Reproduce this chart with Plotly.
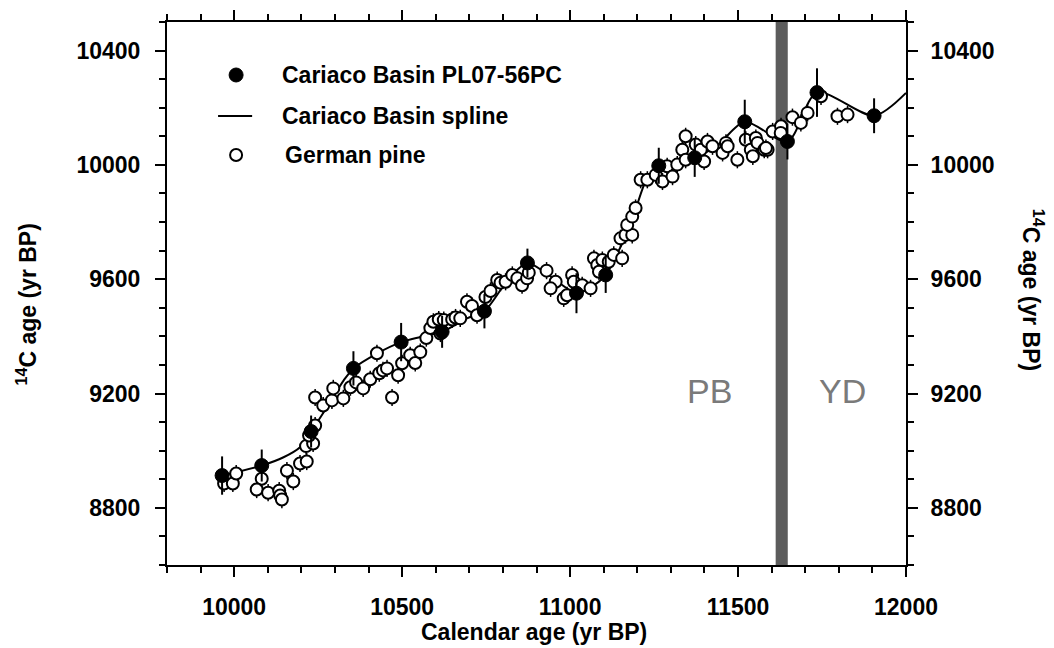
import plotly.graph_objects as go

# ---------------- data ----------------
cariaco_x = [9964, 10082, 10229, 10355, 10497, 10619, 10745, 10873, 11019, 11106,
             11264, 11371, 11520, 11647, 11735, 11905]
cariaco_y = [8913, 8948, 9067, 9288, 9380, 9416, 9488, 9657, 9551, 9615,
             9997, 10025, 10151, 10082, 10253, 10172]
cariaco_err = [67, 56, 56, 60, 67, 56, 60, 50, 70, 63, 63, 67, 77, 63, 85, 61]

spline_x = [9964, 10082, 10147, 10196, 10229, 10276, 10326, 10355, 10425, 10497,
            10554, 10619, 10693, 10745, 10822, 10873, 10930, 11019, 11066, 11106,
            11136, 11180, 11225, 11264, 11319, 11371, 11440, 11520, 11647, 11735,
            11905, 12000]
spline_y = [8913, 8948, 8977, 9012, 9067, 9152, 9246, 9288, 9340, 9380,
            9398, 9416, 9463, 9488, 9609, 9657, 9620, 9551, 9574, 9615,
            9679, 9790, 9942, 9997, 10012, 10025, 10070, 10151, 10082, 10253,
            10172, 10252]

pine_x = [9970, 9996, 10006, 10082, 10067, 10101, 10134, 10137, 10142, 10157,
          10176, 10196, 10216, 10214, 10235, 10223, 10241, 10241, 10265, 10291,
          10295, 10325, 10346, 10363, 10384, 10405, 10425, 10432, 10443, 10455,
          10470, 10488, 10500, 10524, 10539, 10554, 10572, 10584, 10593, 10609,
          10624, 10614, 10649, 10659, 10673, 10693, 10708, 10723, 10748, 10763,
          10783, 10793, 10808, 10828, 10843, 10857, 10872, 10877, 10930, 10957,
          10942, 10981, 10991, 11006, 11011, 11036, 11061, 11071, 11081, 11096,
          11115, 11130, 11155, 11150, 11165, 11185, 11086, 11170, 11185, 11195,
          11210, 11230, 11255, 11275, 11289, 11305, 11319, 11334, 11344, 11344,
          11374, 11399, 11389, 11409, 11424, 11454, 11464, 11469, 11498, 11523,
          11538, 11553, 11558, 11578, 11588, 11603, 11628, 11662, 11544, 11583,
          11627, 11687, 11707, 11747, 11796, 11826]
pine_y = [8885, 8885, 8920, 8902, 8864, 8853, 8860, 8843, 8829, 8930,
          8892, 8955, 8962, 9016, 9025, 9053, 9088, 9186, 9158, 9176,
          9218, 9183, 9222, 9239, 9218, 9250, 9341, 9271, 9281, 9288,
          9186, 9264, 9306, 9334, 9307, 9345, 9394, 9429, 9451, 9459,
          9457, 9410, 9459, 9466, 9463, 9521, 9506, 9474, 9538, 9559,
          9597, 9588, 9591, 9615, 9603, 9579, 9603, 9623, 9630, 9591,
          9568, 9533, 9544, 9615, 9591, 9579, 9568, 9673, 9650, 9667,
          9661, 9685, 9673, 9743, 9755, 9755, 9626, 9790, 9819, 9849,
          9948, 9948, 9965, 9942, 9995, 9959, 10001, 10053, 10100, 10018,
          10071, 10012, 10053, 10082, 10065, 10042, 10077, 10065, 10018, 10088,
          10053, 10094, 10077, 10053, 10053, 10117, 10135, 10167, 10030, 10059,
          10112, 10147, 10182, 10240, 10170, 10176]
pine_err = 30

band_x = [11612, 11648]
x_range = [9800, 12000]
y_range = [8600, 10500]
x_ticks_major, x_ticks_minor = 500, 100
y_ticks_major, y_ticks_minor = 400, 100
period_labels = ["PB", "YD"]
period_x = [11415, 11811]
period_y = 9210

legend_labels = ["Cariaco Basin PL07-56PC", "Cariaco Basin spline", "German pine"]

FONT = "Liberation Sans, Arial, Helvetica, sans-serif"
bold = dict(family=FONT, size=23, color="black", weight="bold")

fig = go.Figure()

fig.add_trace(go.Scatter(
    x=spline_x, y=spline_y, mode="lines",
    line=dict(color="black", width=2, shape="spline", smoothing=0.8),
    name=legend_labels[1], showlegend=False))

fig.add_trace(go.Scatter(
    x=pine_x, y=pine_y, mode="markers",
    marker=dict(symbol="circle", size=12, color="white", line=dict(color="black", width=2)),
    error_y=dict(type="constant", value=pine_err, color="black", thickness=1.5, width=0),
    name=legend_labels[2], showlegend=False))

fig.add_trace(go.Scatter(
    x=cariaco_x, y=cariaco_y, mode="markers",
    marker=dict(symbol="circle", size=14, color="black", line=dict(color="black", width=1)),
    error_y=dict(type="data", array=cariaco_err, color="black", thickness=2, width=0),
    name=legend_labels[0], showlegend=False))

# helper trace for the mirrored (top / right) axes
fig.add_trace(go.Scatter(x=[None], y=[None], xaxis="x2", yaxis="y2", showlegend=False, hoverinfo="skip"))

fig.add_shape(type="rect", xref="x", yref="paper", x0=band_x[0], x1=band_x[1], y0=0, y1=1,
              fillcolor="#5c5c5c", line=dict(width=0), layer="below")

for lab, px in zip(period_labels, period_x):
    fig.add_annotation(x=px, y=period_y, xref="x", yref="y", text=lab, showarrow=False,
                       font=dict(family=FONT, size=34, color="#7a7a7a"))

# ---- legend (drawn as key) ----
lx_sym, lx_txt = 0.0935, 0.1531
ly = [0.9024, 0.8269, 0.7551]
fig.add_shape(type="circle", xref="paper", yref="paper", xsizemode="pixel", ysizemode="pixel",
              xanchor=lx_sym, yanchor=ly[0], x0=-7, x1=7, y0=-7, y1=7,
              fillcolor="black", line=dict(color="black", width=1))
fig.add_shape(type="line", xref="paper", yref="paper", x0=0.0691, x1=0.1152, y0=ly[1], y1=ly[1],
              line=dict(color="black", width=2))
fig.add_shape(type="circle", xref="paper", yref="paper", xsizemode="pixel", ysizemode="pixel",
              xanchor=lx_sym, yanchor=ly[2], x0=-6, x1=6, y0=-6, y1=6,
              fillcolor="white", line=dict(color="black", width=2))
for lab, yy, xx in zip(legend_labels, ly, [lx_txt, lx_txt, lx_txt + 0.004]):
    fig.add_annotation(x=xx, y=yy, xref="paper", yref="paper", text=lab, showarrow=False,
                       font=bold, xanchor="left", yanchor="middle")

common_axis = dict(showline=True, linecolor="black", linewidth=2, showgrid=False, zeroline=False,
                   ticks="outside", ticklen=10, tickwidth=2, tickcolor="black", tickfont=bold,
                   tickformat="d")
minor_x = dict(dtick=x_ticks_minor, tick0=9800, ticks="outside", ticklen=6, tickwidth=1.5, tickcolor="black")
minor_y = dict(dtick=y_ticks_minor, tick0=8600, ticks="outside", ticklen=6, tickwidth=1.5, tickcolor="black")

fig.update_layout(
    width=1054, height=648,
    margin=dict(l=167, r=148, t=22, b=83),
    paper_bgcolor="white", plot_bgcolor="white",
    showlegend=False,
    xaxis=dict(range=x_range, tick0=10000, dtick=x_ticks_major, ticklabelstandoff=10,
               minor=minor_x, **common_axis),
    xaxis2=dict(range=x_range, overlaying="x", side="top", tick0=10000, dtick=x_ticks_major,
                showticklabels=False, minor=minor_x, **common_axis),
    yaxis=dict(range=y_range, tick0=8800, dtick=y_ticks_major, ticklabelstandoff=10,
               minor=minor_y, **common_axis),
    yaxis2=dict(range=y_range, overlaying="y", side="right", tick0=8800, dtick=y_ticks_major,
                ticklabelstandoff=8, minor=minor_y, **common_axis),
)

fig.add_annotation(x=0.496, y=-0.123, xref="paper", yref="paper", text="Calendar age (yr BP)",
                   showarrow=False, font=bold, xanchor="center", yanchor="middle")
fig.add_annotation(x=-0.19, y=0.479, xref="paper", yref="paper", text="<sup>14</sup>C age (yr BP)",
                   showarrow=False, font=bold, textangle=-90, xanchor="center", yanchor="middle")
fig.add_annotation(x=1.171, y=0.506, xref="paper", yref="paper", text="<sup>14</sup>C age (yr BP)",
                   showarrow=False, font=bold, textangle=90, xanchor="center", yanchor="middle")

fig.write_html("out.html", config={"displayModeBar": False},
               post_script="document.body.style.margin='0';document.body.style.overflow='hidden';")
